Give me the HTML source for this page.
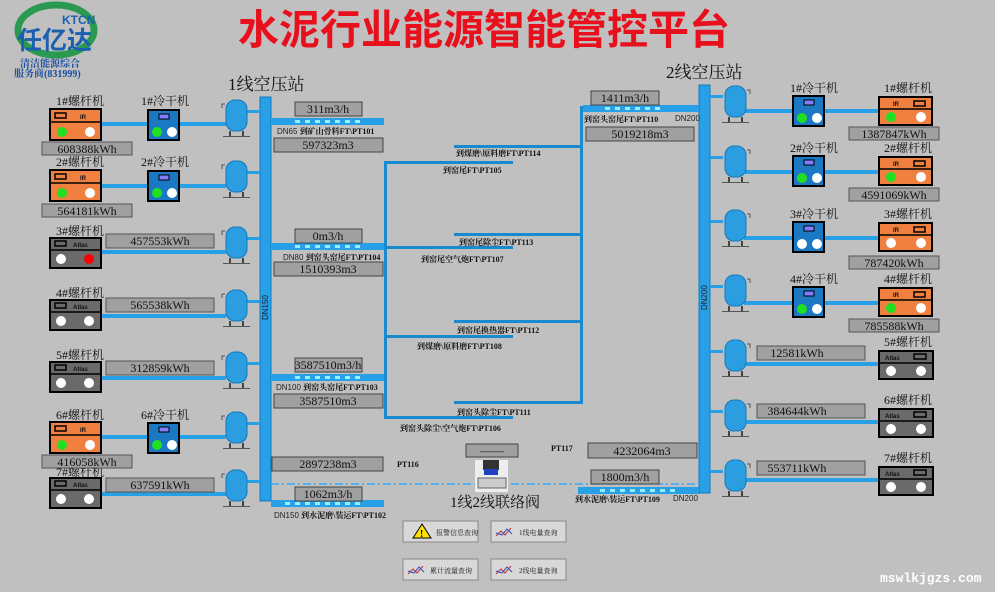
<!DOCTYPE html>
<html><head><meta charset="utf-8"><style>
html,body{margin:0;padding:0;background:#c0c0c0;}
svg{display:block;}
text{font-family:"Liberation Serif","Noto Serif CJK SC","Noto Sans CJK SC",serif;}
.t{font-size:12px;fill:#111;}
.s{font-size:8px;font-weight:bold;fill:#111;font-family:"Liberation Sans","Noto Sans CJK SC",sans-serif;}
.v{font-size:12px;fill:#111;text-anchor:middle;}
.d{font-size:8px;fill:#222;font-family:"Liberation Sans",sans-serif;}
</style></head><body>
<svg width="995" height="592" viewBox="0 0 995 592" xmlns="http://www.w3.org/2000/svg">
<defs>
<g id="tank"><rect x="0" y="0" width="21" height="31" rx="9" fill="#2a9ee0" stroke="#1477b8" stroke-width="1"/><rect x="3" y="31" width="2" height="5" fill="#444"/><rect x="16" y="31" width="2" height="5" fill="#444"/><rect x="-3" y="36" width="27" height="1" fill="#555"/><path d="M-4,8 v-4 h3" stroke="#555" fill="none" stroke-width="1"/></g>
<g id="dry"><rect x="0" y="0" width="31" height="30" fill="#1b78c2" stroke="#000" stroke-width="2"/><rect x="11" y="4" width="10" height="5" fill="#8080ff" stroke="#000"/></g>
</defs>
<!-- title -->
<text x="238" y="44" textLength="492" lengthAdjust="spacingAndGlyphs" style="font-family:'Liberation Sans','Noto Sans CJK SC',sans-serif;font-size:41px;font-weight:bold;fill:#e8101c">水泥行业能源智能管控平台</text>
<!-- logo -->
<ellipse cx="56" cy="30" rx="38" ry="25" fill="none" stroke="#2a9a50" stroke-width="7"/>
<ellipse cx="56" cy="30" rx="31" ry="19" fill="#c0c0c0"/>
<text x="62" y="24" style="font-family:'Liberation Sans',sans-serif;font-size:12px;font-weight:bold;fill:#1a5fb0">KTCN</text>
<text x="17" y="49" style="font-family:'Liberation Sans','Noto Sans CJK SC',sans-serif;font-size:25px;font-weight:bold;fill:#1a5fb0">任亿达</text>
<text x="20" y="67" style="font-size:10px;fill:#1a4fa0;font-weight:bold">清洁能源综合</text>
<text x="14" y="77" style="font-size:10px;fill:#1a4fa0;font-weight:bold">服务商(831999)</text>
<!-- station titles -->
<text x="228" y="90" style="font-size:17px;fill:#111">1线空压站</text>
<text x="666" y="78" style="font-size:17px;fill:#111">2线空压站</text>

<!-- main pipes -->
<rect x="260" y="97" width="11" height="404" fill="#28a0e8" stroke="#1477b8"/>
<text class="d" transform="translate(268,320) rotate(-90)">DN150</text>
<rect x="699" y="85" width="11" height="408" fill="#28a0e8" stroke="#1477b8"/>
<text class="d" transform="translate(707,310) rotate(-90)">DN200</text>

<!-- left machines -->
<g fill="#28a0e8">
<rect x="101" y="122" width="47" height="4"/><rect x="179" y="122" width="47" height="4"/>
<rect x="101" y="184" width="47" height="4"/><rect x="179" y="184" width="47" height="4"/>
<rect x="101" y="250" width="125" height="4"/>
<rect x="101" y="314" width="125" height="4"/>
<rect x="101" y="376" width="125" height="4"/>
<rect x="101" y="435" width="47" height="4"/><rect x="179" y="435" width="47" height="4"/>
<rect x="101" y="492" width="125" height="4"/>
<rect x="246" y="110" width="14" height="3"/><rect x="246" y="171" width="14" height="3"/><rect x="246" y="237" width="14" height="3"/><rect x="246" y="300" width="14" height="3"/><rect x="246" y="362" width="14" height="3"/><rect x="246" y="422" width="14" height="3"/><rect x="246" y="480" width="14" height="3"/>
</g>
<use href="#tank" x="226" y="100"/><use href="#tank" x="226" y="161"/><use href="#tank" x="226" y="227"/><use href="#tank" x="226" y="290"/><use href="#tank" x="226" y="352"/><use href="#tank" x="226" y="412"/><use href="#tank" x="226" y="470"/>

<g>
<rect x="50" y="109" width="51" height="31" fill="#f08040" stroke="#000" stroke-width="2"/><line x1="50" y1="122" x2="101" y2="122" stroke="#000" stroke-width="1.5"/><rect x="55" y="113" width="11" height="5" fill="none" stroke="#000" stroke-width="1.5"/><text class="s" x="80" y="119" style="font-size:6px">IR</text><circle cx="62" cy="132" r="5" fill="#20e020"/><circle cx="90" cy="132" r="5" fill="#fff"/>
</g>
<g transform="translate(0,61)"><rect x="50" y="109" width="51" height="31" fill="#f08040" stroke="#000" stroke-width="2"/><line x1="50" y1="122" x2="101" y2="122" stroke="#000" stroke-width="1.5"/><rect x="55" y="113" width="11" height="5" fill="none" stroke="#000" stroke-width="1.5"/><text class="s" x="80" y="119" style="font-size:6px">IR</text><circle cx="62" cy="132" r="5" fill="#20e020"/><circle cx="90" cy="132" r="5" fill="#fff"/></g>
<g transform="translate(0,313)"><rect x="50" y="109" width="51" height="31" fill="#f08040" stroke="#000" stroke-width="2"/><line x1="50" y1="122" x2="101" y2="122" stroke="#000" stroke-width="1.5"/><rect x="55" y="113" width="11" height="5" fill="none" stroke="#000" stroke-width="1.5"/><text class="s" x="80" y="119" style="font-size:6px">IR</text><circle cx="62" cy="132" r="5" fill="#20e020"/><circle cx="90" cy="132" r="5" fill="#fff"/></g>
<g transform="translate(0,129)"><rect x="50" y="109" width="51" height="30" fill="#6a6a6a" stroke="#000" stroke-width="2"/><line x1="50" y1="121" x2="101" y2="121" stroke="#000" stroke-width="1.5"/><rect x="55" y="112" width="11" height="5" fill="none" stroke="#000" stroke-width="1.5"/><text class="s" x="73" y="118" style="font-size:6px">Atlas</text><circle cx="61" cy="130" r="5" fill="#fff"/><circle cx="89" cy="130" r="5" fill="#f00"/></g>
<g transform="translate(0,191)"><rect x="50" y="109" width="51" height="30" fill="#6a6a6a" stroke="#000" stroke-width="2"/><line x1="50" y1="121" x2="101" y2="121" stroke="#000" stroke-width="1.5"/><rect x="55" y="112" width="11" height="5" fill="none" stroke="#000" stroke-width="1.5"/><text class="s" x="73" y="118" style="font-size:6px">Atlas</text><circle cx="61" cy="130" r="5" fill="#fff"/><circle cx="89" cy="130" r="5" fill="#fff"/></g>
<g transform="translate(0,253)"><rect x="50" y="109" width="51" height="30" fill="#6a6a6a" stroke="#000" stroke-width="2"/><line x1="50" y1="121" x2="101" y2="121" stroke="#000" stroke-width="1.5"/><rect x="55" y="112" width="11" height="5" fill="none" stroke="#000" stroke-width="1.5"/><text class="s" x="73" y="118" style="font-size:6px">Atlas</text><circle cx="61" cy="130" r="5" fill="#fff"/><circle cx="89" cy="130" r="5" fill="#fff"/></g>
<g transform="translate(0,369)"><rect x="50" y="109" width="51" height="30" fill="#6a6a6a" stroke="#000" stroke-width="2"/><line x1="50" y1="121" x2="101" y2="121" stroke="#000" stroke-width="1.5"/><rect x="55" y="112" width="11" height="5" fill="none" stroke="#000" stroke-width="1.5"/><text class="s" x="73" y="118" style="font-size:6px">Atlas</text><circle cx="61" cy="130" r="5" fill="#fff"/><circle cx="89" cy="130" r="5" fill="#fff"/></g>
<use href="#dry" x="148" y="110"/><circle cx="157" cy="132" r="5" fill="#20e020"/><circle cx="172" cy="132" r="5" fill="#fff"/>
<use href="#dry" x="148" y="171"/><circle cx="157" cy="193" r="5" fill="#20e020"/><circle cx="172" cy="193" r="5" fill="#fff"/>
<use href="#dry" x="148" y="423"/><circle cx="157" cy="445" r="5" fill="#20e020"/><circle cx="172" cy="445" r="5" fill="#fff"/>
<g class="t">
<text x="56" y="105">1#螺杆机</text><text x="141" y="105">1#冷干机</text>
<text x="56" y="166">2#螺杆机</text><text x="141" y="166">2#冷干机</text>
<text x="56" y="235">3#螺杆机</text>
<text x="56" y="297">4#螺杆机</text>
<text x="56" y="359">5#螺杆机</text>
<text x="56" y="419">6#螺杆机</text><text x="141" y="419">6#冷干机</text>
<text x="56" y="476">7#螺杆机</text>
</g>
<g fill="#a0a0a0" stroke="#555">
<rect x="42" y="142" width="90" height="13"/><rect x="42" y="204" width="90" height="13"/><rect x="106" y="234" width="108" height="14"/><rect x="106" y="298" width="108" height="14"/><rect x="106" y="361" width="108" height="14"/><rect x="42" y="455" width="90" height="13"/><rect x="106" y="478" width="108" height="14"/>
</g>
<g class="v">
<text x="87" y="153">608388kWh</text><text x="87" y="215">564181kWh</text><text x="160" y="245">457553kWh</text><text x="160" y="309">565538kWh</text><text x="160" y="372">312859kWh</text><text x="87" y="466">416058kWh</text><text x="160" y="489">637591kWh</text>
</g>

<!-- right machines -->
<g fill="#28a0e8">
<rect x="744" y="109" width="49" height="4"/><rect x="824" y="109" width="55" height="4"/>
<rect x="744" y="170" width="49" height="4"/><rect x="824" y="170" width="55" height="4"/>
<rect x="744" y="236" width="49" height="4"/><rect x="824" y="236" width="55" height="4"/>
<rect x="744" y="301" width="49" height="4"/><rect x="824" y="301" width="55" height="4"/>
<rect x="744" y="362" width="135" height="4"/>
<rect x="744" y="420" width="135" height="4"/>
<rect x="744" y="478" width="135" height="4"/>
<rect x="710" y="95" width="13" height="3"/><rect x="710" y="156" width="13" height="3"/><rect x="710" y="220" width="13" height="3"/><rect x="710" y="285" width="13" height="3"/><rect x="710" y="350" width="13" height="3"/><rect x="710" y="410" width="13" height="3"/><rect x="710" y="470" width="13" height="3"/>
</g>
<g transform="translate(1469,0) scale(-1,1)"><use href="#tank" x="723" y="86"/><use href="#tank" x="723" y="146"/><use href="#tank" x="723" y="210"/><use href="#tank" x="723" y="275"/><use href="#tank" x="723" y="340"/><use href="#tank" x="723" y="400"/><use href="#tank" x="723" y="460"/></g>
<use href="#dry" x="793" y="96"/><circle cx="802" cy="118" r="5" fill="#20e020"/><circle cx="817" cy="118" r="5" fill="#fff"/>
<use href="#dry" x="793" y="156"/><circle cx="802" cy="178" r="5" fill="#20e020"/><circle cx="817" cy="178" r="5" fill="#fff"/>
<use href="#dry" x="793" y="222"/><circle cx="802" cy="244" r="5" fill="#fff"/><circle cx="817" cy="244" r="5" fill="#fff"/>
<use href="#dry" x="793" y="287"/><circle cx="802" cy="309" r="5" fill="#20e020"/><circle cx="817" cy="309" r="5" fill="#fff"/>
<g>
<rect x="879" y="97" width="53" height="28" fill="#f08040" stroke="#000" stroke-width="2"/><line x1="879" y1="109" x2="932" y2="109" stroke="#000" stroke-width="1.5"/><rect x="914" y="101" width="11" height="5" fill="none" stroke="#000" stroke-width="1.5"/><text class="s" x="893" y="106" style="font-size:6px">IR</text><circle cx="891" cy="117" r="5" fill="#20e020"/><circle cx="921" cy="117" r="5" fill="#fff"/>
</g>
<g transform="translate(0,60)"><rect x="879" y="97" width="53" height="28" fill="#f08040" stroke="#000" stroke-width="2"/><line x1="879" y1="109" x2="932" y2="109" stroke="#000" stroke-width="1.5"/><rect x="914" y="101" width="11" height="5" fill="none" stroke="#000" stroke-width="1.5"/><text class="s" x="893" y="106" style="font-size:6px">IR</text><circle cx="891" cy="117" r="5" fill="#20e020"/><circle cx="921" cy="117" r="5" fill="#fff"/></g>
<g transform="translate(0,126)"><rect x="879" y="97" width="53" height="28" fill="#f08040" stroke="#000" stroke-width="2"/><line x1="879" y1="109" x2="932" y2="109" stroke="#000" stroke-width="1.5"/><rect x="914" y="101" width="11" height="5" fill="none" stroke="#000" stroke-width="1.5"/><text class="s" x="893" y="106" style="font-size:6px">IR</text><circle cx="891" cy="117" r="5" fill="#fff"/><circle cx="921" cy="117" r="5" fill="#fff"/></g>
<g transform="translate(0,191)"><rect x="879" y="97" width="53" height="28" fill="#f08040" stroke="#000" stroke-width="2"/><line x1="879" y1="109" x2="932" y2="109" stroke="#000" stroke-width="1.5"/><rect x="914" y="101" width="11" height="5" fill="none" stroke="#000" stroke-width="1.5"/><text class="s" x="893" y="106" style="font-size:6px">IR</text><circle cx="891" cy="117" r="5" fill="#20e020"/><circle cx="921" cy="117" r="5" fill="#fff"/></g>
<g><rect x="879" y="351" width="54" height="28" fill="#6a6a6a" stroke="#000" stroke-width="2"/><line x1="879" y1="363" x2="933" y2="363" stroke="#000" stroke-width="1.5"/><rect x="914" y="354" width="12" height="5" fill="none" stroke="#000" stroke-width="1.5"/><text class="s" x="885" y="360" style="font-size:6px">Atlas</text><circle cx="891" cy="371" r="5" fill="#fff"/><circle cx="921" cy="371" r="5" fill="#fff"/></g>
<g transform="translate(0,58)"><rect x="879" y="351" width="54" height="28" fill="#6a6a6a" stroke="#000" stroke-width="2"/><line x1="879" y1="363" x2="933" y2="363" stroke="#000" stroke-width="1.5"/><rect x="914" y="354" width="12" height="5" fill="none" stroke="#000" stroke-width="1.5"/><text class="s" x="885" y="360" style="font-size:6px">Atlas</text><circle cx="891" cy="371" r="5" fill="#fff"/><circle cx="921" cy="371" r="5" fill="#fff"/></g>
<g transform="translate(0,116)"><rect x="879" y="351" width="54" height="28" fill="#6a6a6a" stroke="#000" stroke-width="2"/><line x1="879" y1="363" x2="933" y2="363" stroke="#000" stroke-width="1.5"/><rect x="914" y="354" width="12" height="5" fill="none" stroke="#000" stroke-width="1.5"/><text class="s" x="885" y="360" style="font-size:6px">Atlas</text><circle cx="891" cy="371" r="5" fill="#fff"/><circle cx="921" cy="371" r="5" fill="#fff"/></g>
<g class="t">
<text x="790" y="92">1#冷干机</text><text x="884" y="92">1#螺杆机</text>
<text x="790" y="152">2#冷干机</text><text x="884" y="152">2#螺杆机</text>
<text x="790" y="218">3#冷干机</text><text x="884" y="218">3#螺杆机</text>
<text x="790" y="283">4#冷干机</text><text x="884" y="283">4#螺杆机</text>
<text x="884" y="346">5#螺杆机</text>
<text x="884" y="404">6#螺杆机</text>
<text x="884" y="462">7#螺杆机</text>
</g>
<g fill="#a0a0a0" stroke="#555">
<rect x="849" y="127" width="90" height="13"/><rect x="849" y="188" width="90" height="13"/><rect x="849" y="256" width="90" height="13"/><rect x="849" y="319" width="90" height="13"/><rect x="757" y="346" width="108" height="14"/><rect x="757" y="404" width="108" height="14"/><rect x="757" y="461" width="108" height="14"/>
</g>
<g class="v">
<text x="894" y="138">1387847kWh</text><text x="894" y="199">4591069kWh</text><text x="894" y="267">787420kWh</text><text x="894" y="330">785588kWh</text><text x="797" y="357">12581kWh</text><text x="797" y="415">384644kWh</text><text x="797" y="472">553711kWh</text>
</g>

<!-- center connectors -->
<g fill="#1a8ad0">
<rect x="384" y="161" width="3" height="258"/>
<rect x="580" y="106" width="3" height="298"/>
<rect x="384" y="161" width="129" height="3"/><rect x="384" y="246" width="129" height="3"/><rect x="384" y="335" width="129" height="3"/><rect x="384" y="416" width="129" height="3"/>
<rect x="454" y="145" width="129" height="3"/><rect x="454" y="233" width="129" height="3"/><rect x="454" y="320" width="129" height="3"/><rect x="454" y="401" width="129" height="3"/>
</g>
<g>
<rect x="271" y="118" width="113" height="7" fill="#28a0e8"/><line x1="295" y1="121.5" x2="365" y2="121.5" stroke="#9ef" stroke-width="3" stroke-dasharray="5,5"/>
<rect x="271" y="243" width="113" height="7" fill="#28a0e8"/><line x1="295" y1="246.5" x2="365" y2="246.5" stroke="#9ef" stroke-width="3" stroke-dasharray="5,5"/>
<rect x="271" y="374" width="113" height="7" fill="#28a0e8"/><line x1="295" y1="377.5" x2="365" y2="377.5" stroke="#9ef" stroke-width="3" stroke-dasharray="5,5"/>
<rect x="271" y="500" width="113" height="7" fill="#28a0e8"/><line x1="285" y1="503.5" x2="365" y2="503.5" stroke="#9ef" stroke-width="3" stroke-dasharray="5,5"/>
<rect x="583" y="105" width="116" height="7" fill="#28a0e8"/><line x1="605" y1="108.5" x2="665" y2="108.5" stroke="#9ef" stroke-width="3" stroke-dasharray="5,5"/>
<rect x="578" y="487" width="121" height="7" fill="#28a0e8"/><line x1="600" y1="490.5" x2="680" y2="490.5" stroke="#9ef" stroke-width="3" stroke-dasharray="5,5"/>
<line x1="271" y1="484" x2="700" y2="484" stroke="#3aa8f0" stroke-width="1.5" stroke-dasharray="8,3,2,3"/>
</g>
<g fill="#a0a0a0" stroke="#444">
<rect x="295" y="102" width="67" height="14"/><rect x="274" y="138" width="109" height="14"/>
<rect x="295" y="229" width="67" height="14"/><rect x="274" y="262" width="109" height="14"/>
<rect x="295" y="358" width="67" height="14"/><rect x="274" y="394" width="109" height="14"/>
<rect x="272" y="457" width="111" height="14"/><rect x="295" y="487" width="67" height="14"/>
<rect x="591" y="91" width="68" height="14"/><rect x="586" y="127" width="108" height="14"/>
<rect x="588" y="443" width="109" height="15"/><rect x="591" y="470" width="68" height="14"/>
<rect x="466" y="444" width="52" height="13"/>
</g>
<g class="v">
<text x="328" y="113">311m3/h</text><text x="328" y="149">597323m3</text>
<text x="328" y="240">0m3/h</text><text x="328" y="273">1510393m3</text>
<text x="328" y="369">3587510m3/h</text><text x="328" y="405">3587510m3</text>
<text x="328" y="468">2897238m3</text><text x="328" y="498">1062m3/h</text>
<text x="625" y="102">1411m3/h</text><text x="640" y="138">5019218m3</text>
<text x="642" y="455">4232064m3</text><text x="625" y="481">1800m3/h</text>
<text x="492" y="454" style="font-size:9px">--------</text>
</g>
<g class="s">
<text x="277" y="134"><tspan class="d" style="font-weight:normal">DN65 </tspan>到矿山骨料FT\PT101</text>
<text x="283" y="260"><tspan class="d" style="font-weight:normal">DN80 </tspan>到窑头窑尾FT\PT104</text>
<text x="276" y="390"><tspan class="d" style="font-weight:normal">DN100 </tspan>到窑头窑尾FT\PT103</text>
<text x="274" y="518"><tspan class="d" style="font-weight:normal">DN150 </tspan>到水泥磨\装运FT\PT102</text>
<text x="584" y="122">到窑头窑尾FT\PT110</text><text class="d" x="675" y="121" style="font-weight:normal">DN200</text>
<text x="575" y="502">到水泥磨\装运FT\PT109</text><text class="d" x="673" y="501" style="font-weight:normal">DN200</text>
<text x="456" y="156">到煤磨\原料磨FT\PT114</text>
<text x="443" y="173">到窑尾FT\PT105</text>
<text x="459" y="245">到窑尾除尘FT\PT113</text>
<text x="421" y="262">到窑尾空气炮FT\PT107</text>
<text x="457" y="333">到窑尾换热器FT\PT112</text>
<text x="417" y="349">到煤磨\原料磨FT\PT108</text>
<text x="457" y="415">到窑头除尘FT\PT111</text>
<text x="400" y="431">到窑头除尘\空气炮FT\PT106</text>
<text x="397" y="467">PT116</text>
<text x="551" y="451">PT117</text>
</g>
<rect x="475" y="460" width="33" height="32" fill="#eee"/>
<rect x="483" y="460" width="16" height="10" fill="#333"/>
<rect x="484" y="469" width="14" height="6" fill="#2040c0"/>
<rect x="478" y="478" width="28" height="10" fill="#ccc" stroke="#666"/>
<text x="450" y="507" style="font-size:15px;fill:#111">1线2线联络阀</text>
<g fill="#d8d8d8" stroke="#888">
<rect x="403" y="521" width="75" height="21"/><rect x="491" y="521" width="75" height="21"/>
<rect x="403" y="559" width="75" height="21"/><rect x="491" y="559" width="75" height="21"/>
</g>
<polygon points="413,538 422,524 431,538" fill="#ffe000" stroke="#000"/><text x="420" y="537" style="font-size:10px;font-weight:bold">!</text>
<g stroke="#c03030" fill="none" stroke-width="1"><path d="M496,536 l5,-5 l4,4 l6,-7"/><path d="M496,574 l5,-5 l4,4 l6,-7"/><path d="M408,574 l5,-5 l4,4 l6,-7"/></g>
<g stroke="#3050c0" fill="none" stroke-width="1"><path d="M496,533 l6,2 l5,-6 l5,5"/><path d="M496,571 l6,2 l5,-6 l5,5"/><path d="M408,571 l6,2 l5,-6 l5,5"/></g>
<g style="font-size:7px;fill:#222">
<text x="436" y="535">报警信息查询</text><text x="519" y="535">1线电量查询</text>
<text x="430" y="573">累计流量查询</text><text x="519" y="573">2线电量查询</text>
</g>
<text x="880" y="582" style="font-family:'Liberation Mono',monospace;font-size:13px;fill:#fff;font-weight:bold">mswlkjgzs.com</text>
</svg>
</body></html>
